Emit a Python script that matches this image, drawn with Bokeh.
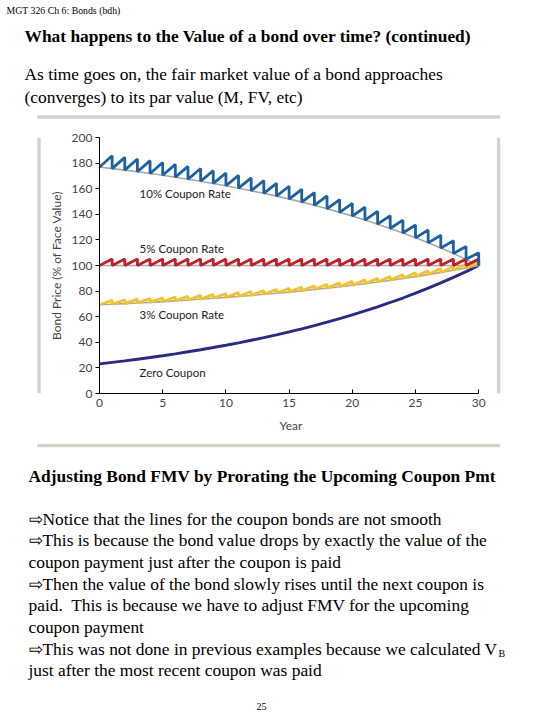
from bokeh.plotting import figure
from bokeh.layouts import column, row
from bokeh.models import Range1d, FixedTicker, Label
from bokeh.embed import file_html
from bokeh.resources import INLINE

# ---------------- data ----------------
years = list(range(31))
# ex-coupon bond prices (% of face value) at each year
price_10pct = [176.9, 175.7, 174.5, 173.2, 171.9, 170.5, 169.0, 167.4, 165.8, 164.1,
               162.3, 160.4, 158.4, 156.4, 154.2, 151.9, 149.5, 147.0, 144.3, 141.5,
               138.6, 135.5, 132.3, 128.9, 125.4, 121.6, 117.7, 113.6, 109.3, 104.8, 100.0]
price_5pct = [100.0, 100.0, 100.0, 100.0, 100.0, 100.0, 100.0, 100.0, 100.0, 100.0,
              100.0, 100.0, 100.0, 100.0, 100.0, 100.0, 100.0, 100.0, 100.0, 100.0,
              100.0, 100.0, 100.0, 100.0, 100.0, 100.0, 100.0, 100.0, 100.0, 100.0, 100.0]
price_3pct = [69.3, 69.7, 70.2, 70.7, 71.2, 71.8, 72.4, 73.0, 73.7, 74.4,
              75.1, 75.8, 76.6, 77.5, 78.3, 79.2, 80.2, 81.2, 82.3, 83.4,
              84.6, 85.8, 87.1, 88.4, 89.9, 91.3, 92.9, 94.6, 96.3, 98.1, 100.0]
price_zero = [23.1, 24.3, 25.5, 26.8, 28.1, 29.5, 31.0, 32.6, 34.2, 35.9,
              37.7, 39.6, 41.6, 43.6, 45.8, 48.1, 50.5, 53.0, 55.7, 58.5,
              61.4, 64.5, 67.7, 71.1, 74.6, 78.4, 82.3, 86.4, 90.7, 95.2, 100.0]
coupon_10pct = 10
coupon_5pct = 5
coupon_3pct = 3
x_ticks = [0, 5, 10, 15, 20, 25, 30]
y_ticks = [0, 20, 40, 60, 80, 100, 120, 140, 160, 180, 200]
series_labels = ["10% Coupon Rate", "5% Coupon Rate", "3% Coupon Rate", "Zero Coupon"]

header = "MGT 326 Ch 6: Bonds (bdh)"
title = "What happens to the Value of a bond over time? (continued)"
intro = ["As time goes on, the fair market value of a bond approaches",
         "(converges) to its par value (M, FV, etc)"]
subtitle = "Adjusting Bond FMV by Prorating the Upcoming Coupon Pmt"
body = ["\u21e8Notice that the lines for the coupon bonds are not smooth",
        "\u21e8This is because the bond value drops by exactly the value of the",
        "coupon payment just after the coupon is paid",
        "\u21e8Then the value of the bond slowly rises until the next coupon is",
        "paid.\u00a0 This is because we have to adjust FMV for the upcoming",
        "coupon payment",
        "\u21e8This was not done in previous examples because we calculated V",
        "just after the most recent coupon was paid"]
page_no = "25"

CHART_FONT = "Lato"
SLIDE_FONT = "Liberation Serif"
BOX_GRAY = "#d3d3cb"
BIG = "17.4px"
W, H = 540, 720
TOP_H, MID_H = 119, 324          # page bands: text / chart / text
LEFT_W, CHART_W = 41, 455


def panel(x0, y0, w, h):
    """A blank figure whose data coordinates equal page pixels."""
    f = figure(width=w, height=h, x_range=Range1d(x0, x0 + w), y_range=Range1d(y0 + h, y0),
               output_backend="svg", toolbar_location=None,
               x_axis_location=None, y_axis_location=None,
               min_border=0, min_border_left=0, min_border_right=0,
               min_border_top=0, min_border_bottom=0)
    f.title.visible = False
    f.outline_line_color = None
    f.background_fill_color = "white"
    f.border_fill_color = "white"
    f.grid.visible = False
    return f


def slide_text(f, txt, X, Y, size=BIG, bold=False, align="left"):
    f.add_layout(Label(x=X, y=Y, text=txt, text_font=SLIDE_FONT, text_font_size=size,
                       text_font_style="bold" if bold else "normal",
                       text_align=align, text_baseline="middle", text_color="black"))


# ---------------- top text band ----------------
top = panel(0, 0, W, TOP_H)
slide_text(top, header, 6, 10, size="9.8px")
slide_text(top, title, 24, 35, bold=True)
for i, line in enumerate(intro):
    slide_text(top, line, 24, 73 + 23 * i)
top.line([36.75, 499.75], [116.5, 116.5], line_color=BOX_GRAY, line_width=3.5)

# ---------------- side strips carrying the grey box edges ----------------
left = panel(0, TOP_H, LEFT_W, MID_H)
left.line([38.5, 38.5], [TOP_H, TOP_H + MID_H], line_color=BOX_GRAY, line_width=3.5)
right = panel(LEFT_W + CHART_W, TOP_H, W - LEFT_W - CHART_W, MID_H)
right.line([498, 498], [TOP_H, TOP_H + MID_H], line_color=BOX_GRAY, line_width=3.5)

# ---------------- chart ----------------
p = figure(width=CHART_W, height=MID_H, x_range=Range1d(0, 30.3), y_range=Range1d(0, 200),
           output_backend="svg", toolbar_location=None,
           min_border_left=58, min_border_right=14, min_border_top=18, min_border_bottom=50)
p.title.visible = False
p.background_fill_color = "white"
p.border_fill_color = "white"
p.outline_line_color = None
p.grid.visible = False

xa = p.xaxis[0]
xa.ticker = FixedTicker(ticks=x_ticks)
xa.bounds = (0, 30)
xa.axis_label = "Year"
xa.axis_label_text_font = CHART_FONT
xa.axis_label_text_font_style = "normal"
xa.axis_label_text_font_size = "12px"
xa.axis_label_standoff = 8
xa.major_label_text_font = CHART_FONT
xa.major_label_text_font_size = "12px"
xa.major_label_standoff = 5
xa.major_tick_in = 4
xa.major_tick_out = 0
xa.minor_tick_line_color = None
xa.axis_line_color = "black"

ya = p.yaxis[0]
ya.ticker = FixedTicker(ticks=y_ticks)
ya.axis_label = "Bond Price (% of Face Value)"
ya.axis_label_text_font = CHART_FONT
ya.axis_label_text_font_style = "normal"
ya.axis_label_text_font_size = "12px"
ya.axis_label_standoff = 5
ya.major_label_text_font = CHART_FONT
ya.major_label_text_font_size = "12px"
ya.major_label_standoff = 3
ya.major_tick_in = 0
ya.major_tick_out = 4
ya.minor_tick_line_color = None
ya.axis_line_color = "black"


def sawtooth(values, coupon):
    xs, ys = [years[0]], [values[0]]
    for i in range(1, len(years)):
        xs += [years[i], years[i]]
        ys += [values[i] + coupon, values[i]]
    return xs, ys


GRAY = "#a8a8a8"
p.line(years, price_zero, line_color="#2b2a82", line_width=2.9)
p.line(years, price_3pct, line_color=GRAY, line_width=1.6)
p.line(years, price_5pct, line_color=GRAY, line_width=1.6)
p.line(years, price_10pct, line_color=GRAY, line_width=1.6)

xs, ys = sawtooth(price_3pct, coupon_3pct)
p.line(xs, ys, line_color="#f1c232", line_width=2.8)
xs, ys = sawtooth(price_5pct, coupon_5pct)
p.line(xs, ys, line_color="#bb2229", line_width=2.8)
xs, ys = sawtooth(price_10pct, coupon_10pct)
p.line(xs, ys, line_color="#1d62a0", line_width=2.8)

for txt, yv in zip(series_labels, [156.3, 113.3, 61.7, 16.4]):
    p.add_layout(Label(x=3.17, y=yv, text=txt, text_font=CHART_FONT, text_font_size="11.5px",
                       text_baseline="middle", text_align="left", text_color="#222222"))

# ---------------- bottom text band ----------------
BOT_Y = TOP_H + MID_H
bottom = panel(0, BOT_Y, W, H - BOT_Y)
bottom.line([36.75, 499.75], [445, 445], line_color=BOX_GRAY, line_width=3.5)
slide_text(bottom, subtitle, 28, 475, bold=True)
for i, line in enumerate(body):
    slide_text(bottom, line, 28, 518 + 21.7 * i)
slide_text(bottom, "B", 498, 653, size="10px")
slide_text(bottom, page_no, 261, 706, size="10px", align="center")

layout = column(top, row(left, p, right, spacing=0), bottom, spacing=0)
open("out.html", "w").write(file_html(layout, INLINE))
